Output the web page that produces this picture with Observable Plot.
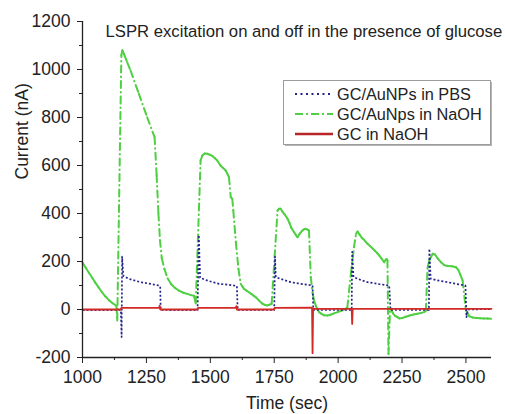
<!DOCTYPE html>
<html>
<head>
<meta charset="utf-8">
<script src="https://cdn.jsdelivr.net/npm/d3@7"></script>
<script src="https://cdn.jsdelivr.net/npm/@observablehq/plot@0.6"></script>
<style>
  body { margin: 0; background: #fff; font-family: "Liberation Sans", Arial, sans-serif; }
  #wrap { position: relative; width: 505px; height: 414px; }
  #legend { position: absolute; left: 283px; top: 80px; }
</style>
</head>
<body>
<div id="wrap"></div>
<script>
// ---- text ----
const chartTitle = "LSPR excitation on and off in the presence of glucose";
const seriesNames = ["GC/AuNPs in PBS", "GC/AuNps in NaOH", "GC in NaOH"];
const xLabel = "Time (sec)";
const yLabel = "Current (nA)";

// ---- ticks ----
const xTicks = [1000, 1250, 1500, 1750, 2000, 2250, 2500];
const xMinorTicks = [1125, 1375, 1625, 1875, 2125, 2375];
const yTicks = [-200, 0, 200, 400, 600, 800, 1000, 1200];
const yMinorTicks = [-100, 100, 300, 500, 700, 900, 1100];

// ---- GC/AuNPs in PBS ----
const pbsTime = [1000, 1150, 1153, 1155, 1160, 1180, 1200, 1227, 1260, 1299, 1304, 1306,
  1450, 1455, 1460, 1490, 1534, 1570, 1604, 1607,
  1750, 1753, 1756, 1790, 1815, 1860, 1900, 1903,
  2053, 2055, 2060, 2090, 2115, 2160, 2200, 2205,
  2355, 2357, 2362, 2395, 2428, 2465, 2498, 2502, 2508, 2600];
const pbsCurrent = [-3, -2, -115, 220, 140, 128, 122, 114, 108, 100, 95, -2,
  -3, 310, 132, 120, 107, 103, 98, -2,
  -2, 220, 135, 122, 114, 106, 100, -2,
  -2, 240, 135, 122, 114, 106, 100, -2,
  -2, 253, 128, 120, 114, 106, 100, -32, 0, 2];

// ---- GC/AuNps in NaOH ----
const naohTime = [1000, 1012, 1025, 1038, 1050, 1063, 1076, 1090, 1104, 1118, 1133,
  1136, 1152, 1156, 1163, 1175, 1188, 1220, 1253, 1282,
  1290, 1297, 1303, 1310, 1320, 1333, 1347, 1362, 1378, 1394, 1410, 1424, 1436,
  1443, 1462, 1469, 1478, 1488, 1498, 1508, 1518, 1527, 1540, 1550, 1560, 1567, 1573, 1580, 1586,
  1590, 1600, 1610, 1619, 1626, 1632, 1641, 1651, 1660, 1670, 1678, 1690, 1704, 1714, 1723, 1732, 1740,
  1763, 1769, 1775, 1782, 1790, 1802, 1810, 1817, 1828, 1835, 1841, 1850, 1860, 1868, 1873, 1880, 1886,
  1893, 1900, 1906, 1914, 1920, 1926, 1935, 1945, 1958, 1970, 1984, 1998, 2014, 2030, 2036,
  2050, 2062, 2070, 2076, 2084, 2092, 2100, 2108, 2115, 2125, 2135, 2145, 2153, 2161, 2170, 2180, 2186, 2190, 2193,
  2197, 2203, 2206, 2214, 2222, 2232, 2240, 2252, 2265, 2280, 2295, 2310, 2325, 2337, 2343,
  2350, 2357, 2363, 2370, 2379, 2390, 2402, 2415, 2428, 2445, 2461, 2470, 2478, 2487,
  2500, 2513, 2525, 2540, 2555, 2570, 2585, 2598];
const naohCurrent = [196, 175, 153, 132, 112, 92, 72, 54, 38, 26, 15,
  -46, 1060, 1080, 1063, 1030, 996, 900, 801, 718,
  560, 400, 290, 215, 170, 130, 105, 90, 78, 70, 65, 60, 57,
  25, 621, 642, 650, 649, 645, 640, 630, 621, 600, 590, 579, 565, 551, 468, 461,
  412, 280, 170, 107, 95, 86, 79, 72, 65, 57, 51, 38, 24, 19, 17, 20, 24,
  412, 420, 420, 408, 398, 378, 360, 340, 322, 310, 301, 316, 329, 335, 336, 333, 329,
  135, 70, 37, 12, 0, -11, -18, -24, -25, -22, -16, -11, -4, 3, 8,
  150, 260, 315, 325, 312, 300, 292, 282, 274, 264, 254, 244, 235, 225, 212, 197, 207, 210, 204,
  -185, 0, 3, -15, -26, -32, -37, -35, -30, -25, -21, -18, -14, -11, -5,
  176, 205, 218, 232, 229, 212, 197, 185, 181, 180, 176, 165, 145, 121,
  -4, -28, -33, -35, -36, -37, -38, -39];

// ---- GC in NaOH ----
const gcTime = [1000, 1150, 1152, 1300, 1302, 1304, 1450, 1452, 1600, 1602, 1604,
  1750, 1752, 1898, 1900, 1902, 2053, 2055, 2057, 2600];
const gcCurrent = [0, 0, 7, 8, 16, 0, 0, 7, 8, 14, 0,
  0, 7, 8, -182, 3, 3, -60, 3, 3];

const colors = { pbs: "#23238c", naoh: "#4fcf42", gc: "#d22a24" };

const pbs = pbsTime.map((t, i) => ({ t, v: pbsCurrent[i] }));
const gc = gcTime.map((t, i) => ({ t, v: gcCurrent[i] }));
// NaOH drawn segment by segment so the dash pattern restarts at each sample (as in the source software)
const naohSeg = naohTime.slice(1).map((t, i) => ({
  t1: naohTime[i], v1: naohCurrent[i], t2: t, v2: naohCurrent[i + 1]
}));

const fmt = d => String(d);

const chart = Plot.plot({
  width: 505, height: 414,
  marginLeft: 82, marginRight: 14, marginTop: 21, marginBottom: 57,
  x: { domain: [1000, 2600] },
  y: { domain: [-200, 1200] },
  style: { fontFamily: "'Liberation Sans', Arial, sans-serif", fontSize: "17.5px", color: "#222", background: "white" },
  marks: [
    Plot.link(naohSeg, { x1: "t1", y1: "v1", x2: "t2", y2: "v2", stroke: colors.naoh, strokeWidth: 2,
      strokeDasharray: "7,4,0.5,4", strokeLinecap: "round" }),
    Plot.line(pbs, { x: "t", y: "v", stroke: colors.pbs, strokeWidth: 1.7, strokeDasharray: "2,2", strokeLinecap: "butt" }),
    Plot.line(gc, { x: "t", y: "v", stroke: colors.gc, strokeWidth: 1.8 }),
    Plot.ruleX([xTicks[0]], { y1: yTicks[0], y2: yTicks[yTicks.length - 1], stroke: "#222", strokeWidth: 1.3 }),
    Plot.ruleY([yTicks[0]], { x1: 1000, x2: 2600, stroke: "#222", strokeWidth: 1.3 }),
    Plot.axisX({ ticks: xTicks, tickSize: 6, tickPadding: 7, tickFormat: fmt, label: null }),
    Plot.axisX({ ticks: xMinorTicks, tickSize: 3, tickFormat: () => "", label: null }),
    Plot.axisY({ ticks: yTicks, tickSize: 5, tickPadding: 7, tickFormat: fmt, label: null }),
    Plot.axisY({ ticks: yMinorTicks, tickSize: 3, tickFormat: () => "", label: null }),
    Plot.text([chartTitle], { frameAnchor: "top-left", dx: 23, dy: 4, lineAnchor: "top", textAnchor: "start", fontSize: 16.7, fill: "#222" }),
    Plot.text([yLabel], { frameAnchor: "left", rotate: -90, dx: -60, dy: -10, fontSize: 17.5, fill: "#222" }),
    Plot.text([xLabel], { frameAnchor: "bottom", dy: 51, fontSize: 17.5, fill: "#222" })
  ]
});

const wrap = document.getElementById("wrap");
wrap.appendChild(chart);

// ---- legend (overlay inside plot area) ----
const ns = "http://www.w3.org/2000/svg";
const lg = document.createElementNS(ns, "svg");
lg.setAttribute("id", "legend");
lg.setAttribute("width", 212);
lg.setAttribute("height", 69);
const styles = [
  { stroke: colors.pbs, dash: "2,3.5", width: 2 },
  { stroke: colors.naoh, dash: "8,3,2,3", width: 2.2 },
  { stroke: "#b8262a", dash: null, width: 2.4 }
];
lg.innerHTML =
  `<rect x="2" y="2" width="207" height="64" fill="#b5b5b5"/>` +
  `<rect x="0.5" y="0.5" width="207" height="64" fill="white" stroke="#9c9c9c" stroke-width="1"/>` +
  seriesNames.map((name, i) => {
    const y = 14 + i * 20;
    const s = styles[i];
    return `<line x1="12" x2="50" y1="${y}" y2="${y}" stroke="${s.stroke}" stroke-width="${s.width}"` +
      (s.dash ? ` stroke-dasharray="${s.dash}"` : "") + `/>` +
      `<text x="54" y="${y}" dy="0.36em" font-size="16.3" fill="#222" font-family="'Liberation Sans', Arial, sans-serif">${name}</text>`;
  }).join("");
wrap.appendChild(lg);
</script>
</body>
</html>
